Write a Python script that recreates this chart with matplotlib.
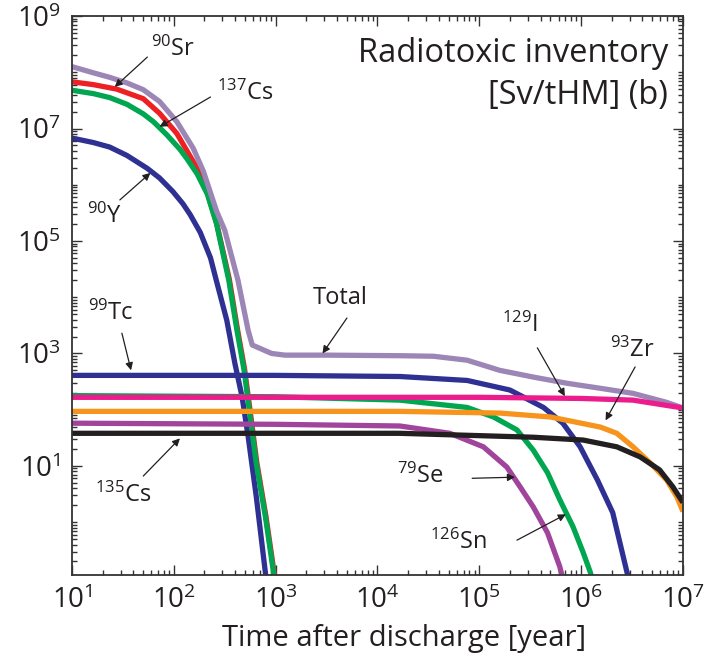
import numpy as np
import matplotlib
matplotlib.use("Agg")
import matplotlib.pyplot as plt
from matplotlib.ticker import FixedLocator, NullFormatter, FuncFormatter

plt.rcParams['font.family'] = ['Open Sans', 'DejaVu Sans']
plt.rcParams['mathtext.fontset'] = 'custom'
plt.rcParams['mathtext.rm'] = 'Open Sans'
plt.rcParams['mathtext.it'] = 'Open Sans:italic'
plt.rcParams['mathtext.bf'] = 'Open Sans:bold'

# curves are given as log10(time [year]) / log10(radiotoxicity [Sv/tHM])
total_t = [1.0, 1.21, 1.37, 1.54, 1.70, 1.86, 2.03, 2.19, 2.29, 2.42, 2.50, 2.63, 2.73, 2.77,
           2.96, 3.09, 3.5, 4.22, 4.55, 4.88, 5.20, 5.53, 5.86, 6.19, 6.51, 6.84, 7.0]
total_v = [8.10, 7.99, 7.91, 7.81, 7.69, 7.48, 7.12, 6.65, 6.24, 5.53, 5.19, 4.30, 3.41, 3.15,
           3.00, 2.97, 2.97, 2.96, 2.95, 2.88, 2.70, 2.58, 2.47, 2.38, 2.29, 2.13, 2.03]

sr90_t = [1.0, 1.21, 1.44, 1.70, 1.86, 2.03, 2.23, 2.33, 2.42, 2.545, 2.625, 2.695, 2.755, 2.815, 2.905, 2.985, 3.05]
sr90_v = [7.83, 7.78, 7.70, 7.53, 7.27, 6.91, 6.29, 5.85, 5.32, 4.32, 3.43, 2.72, 1.90, 1.06, 0.10, -0.90, -1.6]

cs137_t = [1.0, 1.21, 1.37, 1.54, 1.70, 1.80, 1.93, 2.06, 2.13, 2.23, 2.33, 2.42, 2.54, 2.62, 2.69, 2.75, 2.81, 2.90, 2.98, 3.05]
cs137_v = [7.68, 7.62, 7.55, 7.43, 7.26, 7.12, 6.89, 6.63, 6.46, 6.19, 5.83, 5.30, 4.30, 3.41, 2.70, 1.87, 1.04, 0.09, -0.91, -1.7]

y90_t = [1.0, 1.21, 1.37, 1.54, 1.74, 1.86, 1.99, 2.09, 2.16, 2.26, 2.36, 2.42, 2.52, 2.60, 2.67, 2.73, 2.81, 2.90, 2.96]
y90_v = [6.83, 6.75, 6.67, 6.52, 6.29, 6.12, 5.88, 5.66, 5.47, 5.15, 4.70, 4.28, 3.59, 2.82, 2.23, 1.52, 0.45, -0.91, -1.8]

tc99_t = [1.0, 3.0, 4.22, 4.88, 5.30, 5.63, 5.82, 5.99, 6.16, 6.31, 6.45, 6.55]
tc99_v = [2.61, 2.61, 2.59, 2.52, 2.35, 2.04, 1.76, 1.34, 0.75, 0.17, -0.89, -1.6]

sn126_t = [1.0, 3.0, 4.22, 4.88, 5.14, 5.37, 5.53, 5.67, 5.79, 5.92, 6.02, 6.09, 6.15]
sn126_v = [2.25, 2.23, 2.17, 2.04, 1.87, 1.64, 1.28, 0.88, 0.40, -0.08, -0.54, -0.89, -1.3]

i129_t = [1.0, 5.0, 6.0, 6.51, 7.0]
i129_v = [2.22, 2.22, 2.20, 2.17, 2.03]

zr93_t = [1.0, 4.22, 5.20, 5.70, 6.19, 6.35, 6.51, 6.68, 6.84, 6.94, 7.0]
zr93_v = [1.97, 1.97, 1.94, 1.87, 1.69, 1.58, 1.34, 1.05, 0.75, 0.45, 0.19]

se79_t = [1.0, 3.0, 4.22, 4.71, 5.04, 5.27, 5.40, 5.53, 5.67, 5.79, 5.86]
se79_v = [1.76, 1.74, 1.71, 1.58, 1.34, 0.98, 0.63, 0.27, -0.19, -0.79, -1.3]

cs135_t = [1.0, 4.22, 5.53, 6.02, 6.35, 6.58, 6.77, 6.90, 7.0]
cs135_v = [1.58, 1.58, 1.51, 1.46, 1.34, 1.16, 0.93, 0.63, 0.35]

BLUE = '#2e3192'
GREEN = '#00a650'
RED = '#ed2124'
PINK = '#ec1c8c'
ORANGE = '#f7941d'
VIOLET = '#a0449c'
BLACK = '#231f20'
LAVENDER = '#9b86b6'


def exp10(a):
    return 10.0 ** np.asarray(a)


fig = plt.figure(figsize=(7.15, 6.65), dpi=100)
ax = fig.add_axes([0.1007, 0.1353, 0.8545, 0.8406])

lw = 3.8
style = dict(lw=lw, solid_joinstyle='round', solid_capstyle='butt')
ax.plot(exp10(y90_t), exp10(y90_v), color=BLUE, **style)
ax.plot(exp10(sr90_t), exp10(sr90_v), color=RED, **style)
ax.plot(exp10(cs137_t), exp10(cs137_v), color=GREEN, **style)
ax.plot(exp10(total_t), exp10(total_v), color=LAVENDER, **style)
ax.plot(exp10(tc99_t), exp10(tc99_v), color=BLUE, **style)
ax.plot(exp10(sn126_t), exp10(sn126_v), color=GREEN, **style)
ax.plot(exp10(i129_t), exp10(i129_v), color=PINK, **style)
ax.plot(exp10(zr93_t), exp10(zr93_v), color=ORANGE, **style)
ax.plot(exp10(se79_t), exp10(se79_v), color=VIOLET, **style)
ax.plot(exp10(cs135_t), exp10(cs135_v), color=BLACK, **style)

ax.set_xscale('log')
ax.set_yscale('log')
ax.set_xlim(10, 1e7)
ax.set_ylim(10 ** -0.94, 1e9)

ax.xaxis.set_major_locator(FixedLocator([10.0 ** k for k in range(1, 8)]))
ax.xaxis.set_minor_locator(FixedLocator([m * 10.0 ** k for k in range(1, 7) for m in range(2, 10)]))
ax.yaxis.set_major_locator(FixedLocator([10.0 ** k for k in (1, 3, 5, 7, 9)]))
ax.yaxis.set_minor_locator(FixedLocator([m * 10.0 ** k for k in range(-1, 9) for m in range(1, 10)
                                         if not (m == 1 and k % 2 == 1)]))
pow_fmt = FuncFormatter(lambda v, pos: r'$\mathregular{10^{%d}}$' % round(np.log10(v)))
ax.xaxis.set_major_formatter(pow_fmt)
ax.yaxis.set_major_formatter(pow_fmt)
ax.xaxis.set_minor_formatter(NullFormatter())
ax.yaxis.set_minor_formatter(NullFormatter())

ax.tick_params(which='both', direction='in', top=True, right=True, color='#333333', width=1.0)
ax.tick_params(which='major', length=7, labelsize=20, labelcolor=BLACK, pad=8)
ax.tick_params(which='minor', length=3.5)
for s in ax.spines.values():
    s.set_linewidth(1.3)
    s.set_color('#333333')

ax.set_xlabel('Time after discharge [year]', fontsize=21, color=BLACK)
ax.xaxis.set_label_coords(0.543, -0.088)

ax.text(0.976, 0.962, 'Radiotoxic inventory', transform=ax.transAxes,
        ha='right', va='top', fontsize=23.5, color=BLACK)
ax.text(0.976, 0.888, '[Sv/tHM] (b)', transform=ax.transAxes,
        ha='right', va='top', fontsize=23.5, color=BLACK)

# nuclide labels: (text, label pos, arrow start, arrow tip) in log10 coordinates
labels = [
    (r'$\mathregular{^{90}Sr}$', (1.99, 8.40), (1.74, 8.27), (1.42, 7.74)),
    (r'$\mathregular{^{137}Cs}$', (2.70, 7.63), (2.36, 7.56), (1.86, 7.03)),
    (r'$\mathregular{^{90}Y}$', (1.32, 5.44), (1.47, 5.73), (1.77, 6.21)),
    (r'$\mathregular{^{99}Tc}$', (1.38, 3.72), (1.49, 3.36), (1.58, 2.70)),
    ('Total', (3.63, 3.98), (3.70, 3.63), (3.46, 3.00)),
    (r'$\mathregular{^{135}Cs}$', (1.50, 0.48), (1.70, 0.82), (2.06, 1.49)),
    (r'$\mathregular{^{129}I}$', (5.40, 3.50), (5.57, 3.10), (5.84, 2.24)),
    (r'$\mathregular{^{93}Zr}$', (6.50, 3.06), (6.53, 2.76), (6.24, 1.81)),
    (r'$\mathregular{^{79}Se}$', (4.42, 0.82), (4.93, 0.78), (5.35, 0.80)),
    (r'$\mathregular{^{126}Sn}$', (4.79, -0.36), (5.37, -0.32), (5.85, 0.14)),
]
for txt, (lx, ly), (sx, sy), (ex, ey) in labels:
    ax.text(10 ** lx, 10 ** ly, txt, ha='center', va='center', fontsize=17, color=BLACK)
    ax.annotate('', xy=(10 ** ex, 10 ** ey), xytext=(10 ** sx, 10 ** sy),
                arrowprops=dict(arrowstyle='-|>', color=BLACK, lw=0.9,
                                mutation_scale=11, shrinkA=0, shrinkB=0))

fig.savefig('out.png', dpi=100)
